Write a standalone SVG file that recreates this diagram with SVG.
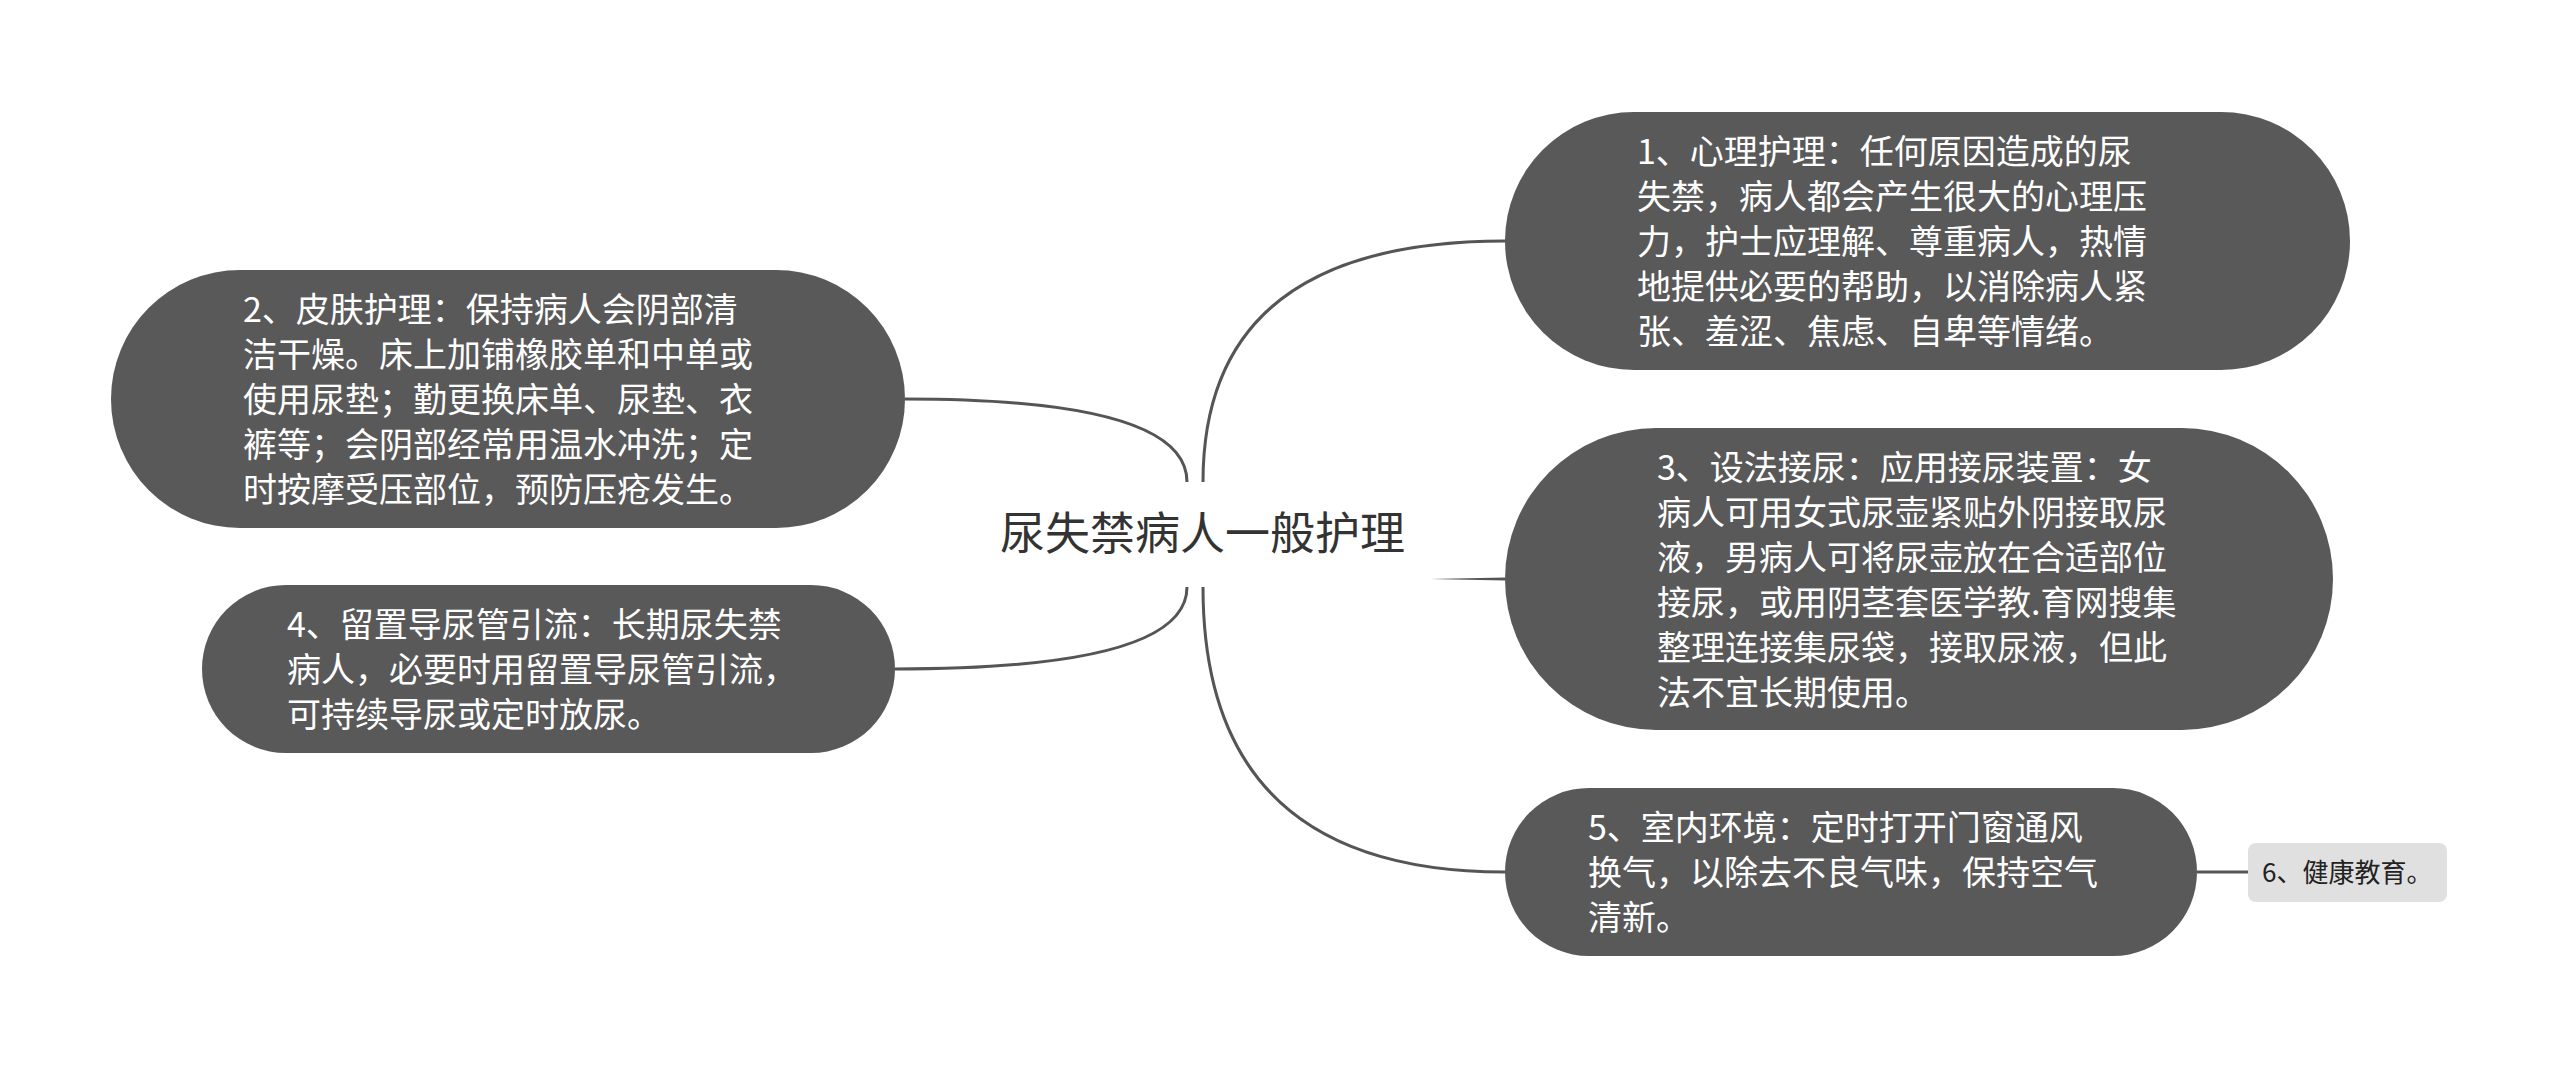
<svg xmlns="http://www.w3.org/2000/svg" width="2560" height="1069" viewBox="0 0 2560 1069">
<style>
.node{fill:#595959;}
.leaf{fill:#e0e0e0;}
.t{font-family:"Noto Sans CJK SC","Noto Sans",sans-serif;font-size:34px;fill:#ffffff;}
.t6{font-family:"Noto Sans CJK SC","Noto Sans",sans-serif;font-size:26px;fill:#222222;}
.root{font-family:"Noto Sans CJK SC","Noto Sans",sans-serif;font-size:45px;fill:#333333;}
.c{fill:none;stroke:#555555;stroke-width:3;}
</style>
<rect width="2560" height="1069" fill="#ffffff"/>
<g id="connectors">
<path class="c" d="M1203,482 Q1203,241 1505,241"/>
<path class="c" d="M1187,482 Q1187,399 905,399"/>
<path class="c" d="M1187,587 Q1187,669 895,669"/>
<path class="c" d="M1203,587 Q1203,872 1505,872"/>
<path d="M1430,579 L1505,577.5 L1505,580.5 Z" fill="#555555"/>
<path class="c" d="M2197,872 L2248,872"/>
</g>
<g id="root">
<text class="root" x="1000" y="550">尿失禁病人一般护理</text>
</g>
<g id="node1">
<rect class="node" x="1505" y="112" width="845" height="258" rx="129"/>
<text class="t" x="1637" y="164">1、心理护理：任何原因造成的尿</text>
<text class="t" x="1637" y="209">失禁，病人都会产生很大的心理压</text>
<text class="t" x="1637" y="254">力，护士应理解、尊重病人，热情</text>
<text class="t" x="1637" y="299">地提供必要的帮助，以消除病人紧</text>
<text class="t" x="1637" y="344">张、羞涩、焦虑、自卑等情绪。</text>
</g>
<g id="node2">
<rect class="node" x="111" y="270" width="794" height="258" rx="129"/>
<text class="t" x="243" y="322">2、皮肤护理：保持病人会阴部清</text>
<text class="t" x="243" y="367">洁干燥。床上加铺橡胶单和中单或</text>
<text class="t" x="243" y="412">使用尿垫；勤更换床单、尿垫、衣</text>
<text class="t" x="243" y="457">裤等；会阴部经常用温水冲洗；定</text>
<text class="t" x="243" y="502">时按摩受压部位，预防压疮发生。</text>
</g>
<g id="node3">
<rect class="node" x="1505" y="428" width="828" height="302" rx="151"/>
<text class="t" x="1657" y="480">3、设法接尿：应用接尿装置：女</text>
<text class="t" x="1657" y="525">病人可用女式尿壶紧贴外阴接取尿</text>
<text class="t" x="1657" y="570">液，男病人可将尿壶放在合适部位</text>
<text class="t" x="1657" y="615">接尿，或用阴茎套医学教.育网搜集</text>
<text class="t" x="1657" y="660">整理连接集尿袋，接取尿液，但此</text>
<text class="t" x="1657" y="705">法不宜长期使用。</text>
</g>
<g id="node4">
<rect class="node" x="202" y="585" width="693" height="168" rx="84"/>
<text class="t" x="287" y="637">4、留置导尿管引流：长期尿失禁</text>
<text class="t" x="287" y="682">病人，必要时用留置导尿管引流，</text>
<text class="t" x="287" y="727">可持续导尿或定时放尿。</text>
</g>
<g id="node5">
<rect class="node" x="1505" y="788" width="692" height="168" rx="84"/>
<text class="t" x="1588" y="840">5、室内环境：定时打开门窗通风</text>
<text class="t" x="1588" y="885">换气，以除去不良气味，保持空气</text>
<text class="t" x="1588" y="930">清新。</text>
</g>
<g id="node6">
<rect class="leaf" x="2248" y="843" width="199" height="59" rx="8"/>
<text class="t6" x="2262" y="882">6、健康教育。</text>
</g>
</svg>
